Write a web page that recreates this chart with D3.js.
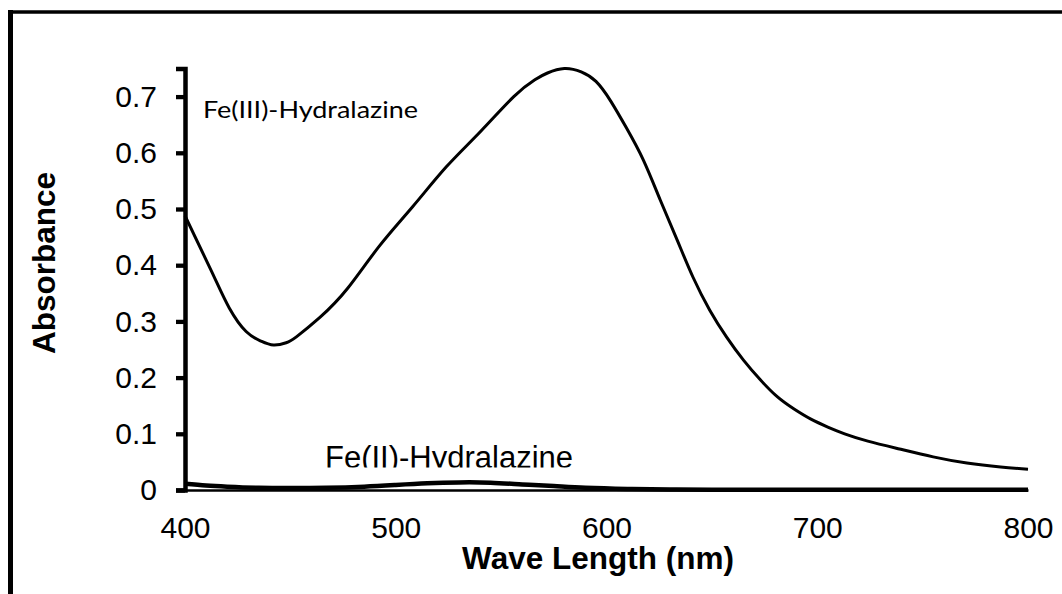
<!DOCTYPE html>
<html lang="en">
<head>
    <meta charset="UTF-8">
    <title>Fe(III)/Fe(II)-Hydralazine Absorbance</title>
    <script src="https://d3js.org/d3.v7.min.js"></script>
    <style>
        body {
            margin: 0;
            background: #fff;
            font-family: Arial, "Liberation Sans", sans-serif;
        }
        .axis text {
            font-size: 30px;
            font-family: Arial, "Liberation Sans", sans-serif;
            fill: #000;
        }
        .axis path, .axis line {
            stroke: #000;
        }
        .title {
            font-size: 31.5px;
            font-weight: bold;
        }
    </style>
</head>
<body>
    <div id="chart"></div>

    <script>
        // Fe(III)-Hydralazine spectrum
        const fe3Wavelength = [400, 413, 421, 429, 436, 442, 448, 453, 464, 477, 492, 508, 524, 540, 556, 566, 572, 580, 588, 595, 602, 609.5, 617.5, 625.5, 633.5, 641, 649, 657, 665, 673, 681, 689, 697, 705, 713, 724, 739, 755, 771, 787, 800];
        const fe3Absorbance = [0.488, 0.386, 0.324, 0.282, 0.265, 0.258, 0.262, 0.273, 0.307, 0.358, 0.433, 0.504, 0.575, 0.637, 0.700, 0.730, 0.742, 0.750, 0.744, 0.727, 0.692, 0.644, 0.587, 0.516, 0.445, 0.379, 0.320, 0.272, 0.231, 0.196, 0.166, 0.144, 0.126, 0.112, 0.100, 0.087, 0.073, 0.059, 0.048, 0.041, 0.037];

        // Fe(II)-Hydralazine spectrum
        const fe2Wavelength = [400, 410, 420, 435, 450, 467, 485, 500, 515, 530, 545, 560, 575, 590, 610, 630, 650, 700, 750, 800];
        const fe2Absorbance = [0.011, 0.008, 0.006, 0.004, 0.0035, 0.004, 0.006, 0.009, 0.012, 0.0135, 0.013, 0.010, 0.007, 0.004, 0.002, 0.001, 0.0006, 0.0005, 0.0005, 0.0005];

        const xTicks = [400, 500, 600, 700, 800];
        const yTicks = [0, 0.1, 0.2, 0.3, 0.4, 0.5, 0.6, 0.7];

        const width = 1062;
        const height = 594;

        const svg = d3.select("#chart")
            .append("svg")
            .attr("width", width)
            .attr("height", height);

        // outer frame (only top and left edges show in the crop)
        svg.append("line")
            .attr("x1", 8).attr("x2", width + 5)
            .attr("y1", 12).attr("y2", 12)
            .attr("stroke", "#000").attr("stroke-width", 3.5);
        svg.append("line")
            .attr("x1", 10.5).attr("x2", 10.5)
            .attr("y1", 10).attr("y2", height + 5)
            .attr("stroke", "#000").attr("stroke-width", 5);

        const x = d3.scaleLinear()
            .domain([400, 800])
            .range([185, 1028]);

        const y = d3.scaleLinear()
            .domain([0, 0.75])
            .range([490, 68.5]);

        // x axis: line only, labels below
        const xAxis = svg.append("g")
            .attr("class", "axis")
            .attr("transform", `translate(0,${y(0)})`)
            .call(d3.axisBottom(x).tickValues(xTicks).tickSize(0).tickPadding(27).tickFormat(d3.format("d")));
        xAxis.select(".domain").attr("stroke-width", 2.5);

        // y axis
        const yAxis = svg.append("g")
            .attr("class", "axis")
            .attr("transform", `translate(${x(400)},0)`)
            .call(d3.axisLeft(y).tickValues(yTicks).tickSizeOuter(0).tickSize(9).tickPadding(19)
                .tickFormat(d => d === 0 ? "0" : d3.format(".1f")(d)));
        yAxis.select(".domain").attr("stroke-width", 4.5);
        yAxis.selectAll(".tick line").attr("stroke-width", 4.3);

        const line = d3.line()
            .x(d => x(d[0]))
            .y(d => y(d[1]))
            .curve(d3.curveNatural);

        svg.append("path")
            .datum(fe2Wavelength.map((w, i) => [w, fe2Absorbance[i]]))
            .attr("fill", "none")
            .attr("stroke", "#000")
            .attr("stroke-width", 4.5)
            .attr("d", line);

        svg.append("path")
            .datum(fe3Wavelength.map((w, i) => [w, fe3Absorbance[i]]))
            .attr("fill", "none")
            .attr("stroke", "#000")
            .attr("stroke-width", 3)
            .attr("d", line);

        // axis titles
        svg.append("text")
            .attr("class", "title")
            .attr("x", 598)
            .attr("y", 569)
            .attr("text-anchor", "middle")
            .text("Wave Length (nm)");

        svg.append("text")
            .attr("class", "title")
            .attr("transform", "rotate(-90)")
            .attr("x", -263)
            .attr("y", 55)
            .attr("text-anchor", "middle")
            .text("Absorbance");

        // series labels
        svg.append("text")
            .attr("x", 203)
            .attr("y", 118)
            .style("font-family", "Lato, 'Open Sans', sans-serif")
            .style("font-size", "24px")
            .attr("textLength", 215)
            .attr("lengthAdjust", "spacingAndGlyphs")
            .text("Fe(III)-Hydralazine");

        // the Fe(II) label sits in a text box that cuts off its lower part
        svg.append("clipPath")
            .attr("id", "labelClip")
            .append("rect")
            .attr("x", 300).attr("y", 420)
            .attr("width", 320).attr("height", 47.5);

        svg.append("text")
            .attr("x", 325)
            .attr("y", 468)
            .attr("clip-path", "url(#labelClip)")
            .style("font-size", "31px")
            .text("Fe(II)-Hydralazine");
    </script>
</body>
</html>
